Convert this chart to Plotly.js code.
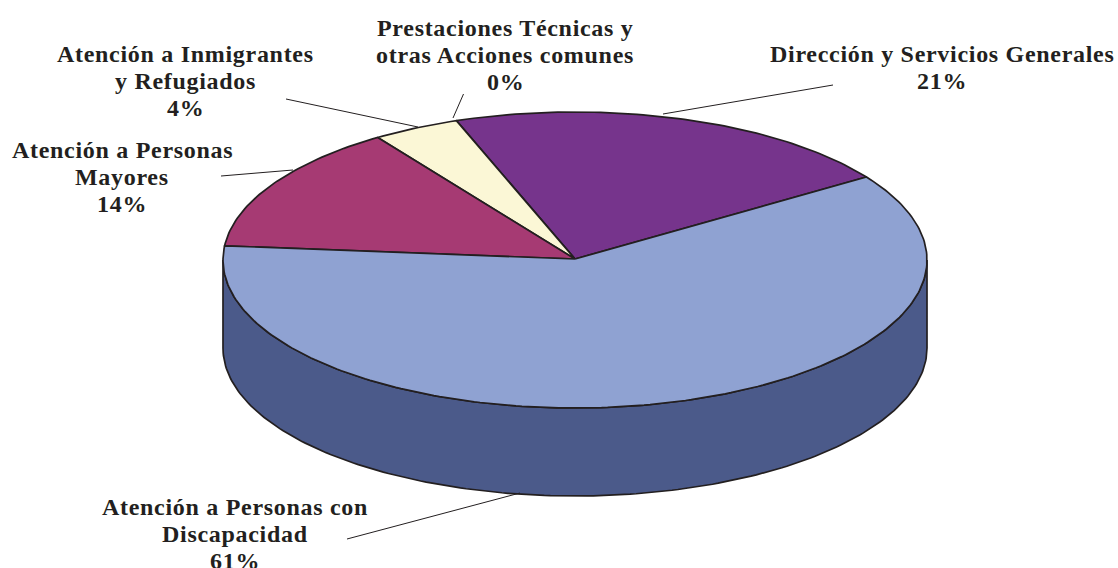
<!DOCTYPE html>
<html>
<head>
<meta charset="utf-8">
<script src="https://cdn.plot.ly/plotly-3.0.1.min.js"></script>
<style>html,body{margin:0;padding:0;background:#fff;overflow:hidden}#chart{width:1118px;height:568px}
.annotation-text{letter-spacing:0.7px}</style>
</head>
<body>
<div id="chart"></div>
<script>
const categories = [
  ['Dirección y Servicios Generales'],
  ['Prestaciones Técnicas y', 'otras Acciones comunes'],
  ['Atención a Inmigrantes', 'y Refugiados'],
  ['Atención a Personas', 'Mayores'],
  ['Atención a Personas con', 'Discapacidad']
];
const percentages = [21, 0, 4, 14, 61];
const sliceColors = ['#76348c', '#fbf7d6', '#fbf7d6', '#a63a73', '#8fa2d2'];
const labelCentres = [[942, 54], [505, 28], [185, 54], [122, 150], [235, 507]];
const leaderLines = [
  [[663, 114], [833, 85]],
  [[453, 118], [463.5, 94]],
  [[418, 127], [286, 99]],
  [[293, 170], [221, 176]],
  [[520, 493], [347, 539]]
];

const cx = 575, cy = 260, rx = 352, ry = 148, depth = 88, startDeg = 34.1, linePitch = 27;
const sideColor = '#4b5a8a', edge = '#231f20';

const ex = d => cx + rx * Math.cos(d * Math.PI / 180);
const ey = d => cy - ry * Math.sin(d * Math.PI / 180);
function arc(from, to) {
  const n = Math.max(1, Math.ceil(Math.abs(to - from))), xs = [], ys = [];
  for (let i = 0; i <= n; i++) { const d = from + (to - from) * i / n; xs.push(ex(d)); ys.push(ey(d)); }
  return [xs, ys];
}

const traces = [];
// side wall: front half of the rim plus the same rim lowered by the depth
const [fx, fy] = arc(180, 360);
traces.push({
  type: 'scatter', mode: 'lines', x: fx.concat(fx.slice().reverse(), [fx[0]]),
  y: fy.concat(fy.slice().reverse().map(v => v + depth), [fy[0]]),
  fill: 'toself', fillcolor: sideColor, line: {color: edge, width: 1.7},
  hoverinfo: 'skip', showlegend: false
});
// top face: each wedge's sweep comes from its percentage
const total = percentages.reduce((a, b) => a + b, 0);
let a0 = startDeg;
percentages.forEach((v, i) => {
  const a1 = a0 + v / total * 360;
  const [ax, ay] = arc(a0, a1);
  traces.push({
    type: 'scatter', mode: 'lines', name: categories[i].join(' '),
    x: [cx].concat(ax, [cx]), y: [cy - 1].concat(ay, [cy - 1]),
    fill: 'toself', fillcolor: sliceColors[i], line: {color: edge, width: 1.7},
    text: v + '%', hoverinfo: 'name+text', showlegend: false
  });
  a0 = a1;
});

// one annotation per line of text, so the line pitch can follow the reference
const annotations = [];
categories.forEach((c, i) => {
  c.concat([percentages[i] + '%']).forEach((line, j) => {
    annotations.push({
      x: labelCentres[i][0], y: labelCentres[i][1] + j * linePitch, xref: 'x', yref: 'y',
      text: line, showarrow: false, xanchor: 'center', yanchor: 'middle', align: 'center',
      font: {family: '"Liberation Serif", serif', size: 24, color: edge, weight: 700}
    });
  });
});
const shapes = leaderLines.map(l => ({
  type: 'line', xref: 'x', yref: 'y', x0: l[0][0], y0: l[0][1], x1: l[1][0], y1: l[1][1],
  line: {color: edge, width: 1}
}));

Plotly.newPlot('chart', traces, {
  width: 1118, height: 568, margin: {l: 0, r: 0, t: 0, b: 0},
  paper_bgcolor: '#fff', plot_bgcolor: '#fff', showlegend: false,
  xaxis: {range: [0, 1118], visible: false, fixedrange: true},
  yaxis: {range: [568, 0], visible: false, fixedrange: true},
  annotations, shapes
}, {displayModeBar: false, staticPlot: true});
</script>
</body>
</html>
